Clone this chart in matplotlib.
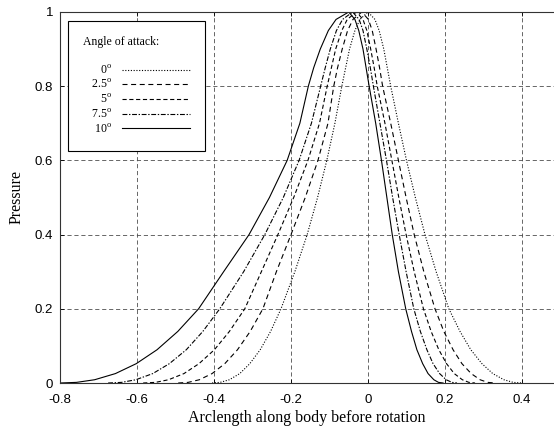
import matplotlib
matplotlib.use("Agg")
import matplotlib.pyplot as plt

plt.rcParams['font.family'] = ['Liberation Sans', 'DejaVu Sans']
plt.rcParams['mathtext.fontset'] = 'custom'
plt.rcParams['mathtext.rm'] = 'Liberation Serif'
plt.rcParams['axes.unicode_minus'] = False
plt.rcParams['lines.scale_dashes'] = False

# pressure levels at which the x positions were read (shared by all curves)
pressure = [0, 0.0017, 0.0088, 0.0254, 0.0521, 0.0896, 0.139, 0.2, 0.3, 0.4, 0.5, 0.6, 0.7, 0.8,
            0.85, 0.9, 0.95, 0.98, 1.0, 0.98, 0.95, 0.9, 0.85,
            0.8, 0.7, 0.6, 0.5, 0.4, 0.3, 0.2, 0.139, 0.0896, 0.0521, 0.0254, 0.0088, 0.0017, 0]

# arclength positions, one list per angle of attack
s_0 = [-0.405, -0.384, -0.360, -0.333, -0.307, -0.280, -0.253, -0.226, -0.190, -0.158, -0.131, -0.107,
       -0.086, -0.068, -0.058, -0.048, -0.034, -0.021, 0.000, 0.018, 0.029, 0.041, 0.050, 0.059, 0.079,
       0.100, 0.123, 0.148, 0.177, 0.210, 0.239, 0.267, 0.296, 0.324, 0.353, 0.377, 0.400]
s_25 = [-0.493, -0.467, -0.438, -0.405, -0.372, -0.339, -0.306, -0.273, -0.238, -0.200, -0.163, -0.130,
        -0.104, -0.089, -0.079, -0.067, -0.053, -0.039, -0.016, 0.001, 0.011, 0.021, 0.030, 0.038, 0.059,
        0.079, 0.099, 0.120, 0.145, 0.174, 0.197, 0.221, 0.244, 0.268, 0.291, 0.311, 0.330]
s_5 = [-0.584, -0.552, -0.518, -0.478, -0.439, -0.399, -0.360, -0.320, -0.277, -0.234, -0.193, -0.156,
       -0.126, -0.106, -0.095, -0.084, -0.068, -0.054, -0.030, -0.013, -0.003, 0.007, 0.016, 0.024, 0.044,
       0.062, 0.080, 0.099, 0.120, 0.144, 0.164, 0.184, 0.204, 0.224, 0.245, 0.262, 0.278]
s_75 = [-0.675, -0.640, -0.603, -0.559, -0.516, -0.472, -0.429, -0.385, -0.323, -0.268, -0.220, -0.179,
        -0.147, -0.123, -0.111, -0.098, -0.082, -0.066, -0.040, -0.023, -0.013, -0.003, 0.006, 0.014,
        0.031, 0.048, 0.064, 0.081, 0.099, 0.119, 0.136, 0.153, 0.169, 0.186, 0.203, 0.218, 0.231]
s_10 = [-0.800, -0.757, -0.710, -0.656, -0.602, -0.548, -0.494, -0.440, -0.375, -0.309, -0.256, -0.210,
        -0.177, -0.155, -0.141, -0.124, -0.103, -0.083, -0.050, -0.034, -0.024, -0.013, -0.005, 0.003,
        0.020, 0.035, 0.049, 0.063, 0.079, 0.098, 0.113, 0.127, 0.142, 0.156, 0.171, 0.183, 0.195]

angles = ['0', '2.5', '5', '7.5', '10']
curves = [s_0, s_25, s_5, s_75, s_10]
styles = [(0, (0.8, 1.2)), (0, (3.6, 2.6)), (0, (3.0, 1.9)), (0, (3.5, 1.2, 1.0, 1.2)), '-']

xticks = [-0.8, -0.6, -0.4, -0.2, 0, 0.2, 0.4]
xticklabels = ['-0.8', '-0.6', '-0.4', '-0.2', '0', '0.2', '0.4']
yticks = [0, 0.2, 0.4, 0.6, 0.8, 1]
yticklabels = ['0', '0.2', '0.4', '0.6', '0.8', '1']

fig = plt.figure(figsize=(5.54, 4.33), dpi=100)
ax = fig.add_axes([60 / 554, 50 / 433, 500.5 / 554, 371 / 433])

for s, ls, a in zip(curves, styles, angles):
    ax.plot(s, pressure, color='k', lw=0.8, linestyle=ls, label='   ' + a + r'$^\mathrm{o}$')

ax.set_xlim(-0.8, 0.5)
ax.set_ylim(0, 1)
ax.set_xticks(xticks)
ax.set_xticklabels(xticklabels)
ax.set_yticks(yticks)
ax.set_yticklabels(yticklabels)
ax.tick_params(direction='in', length=3, width=0.6, labelsize=9.5, top=True, right=True)
ax.tick_params(axis='x', pad=8)
ax.tick_params(axis='y', pad=5)
ax.grid(True, color='0.3', lw=0.6, linestyle=(0, (3, 2)))
for sp in ax.spines.values():
    sp.set_linewidth(0.8)
    sp.set_color('0.2')

ax.set_xlabel('Arclength along body before rotation', family='Liberation Serif', fontsize=11.5)
ax.set_ylabel('Pressure', family='Liberation Serif', fontsize=11.5)
ax.xaxis.set_label_coords(0.4935, -0.072)
ax.yaxis.set_label_coords(-0.07, 0.5)

leg = ax.legend(loc='upper left', bbox_to_anchor=(0.016, 0.976), borderaxespad=0,
                title='Angle of attack:\n', alignment='left', markerfirst=False,
                prop={'family': 'Liberation Serif', 'size': 8.5},
                title_fontproperties={'family': 'Liberation Serif', 'size': 8.5},
                handlelength=5.7, handletextpad=0.8, labelspacing=0.135,
                borderpad=1.3, fancybox=False, framealpha=1, edgecolor='k')
leg.get_frame().set_linewidth(0.8)

fig.savefig('out.png', dpi=100)
